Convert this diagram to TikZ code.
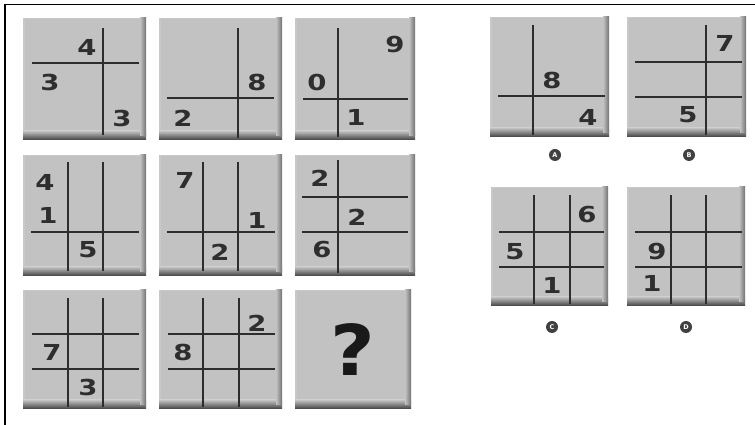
\documentclass[tikz,border=0pt]{standalone}
\usepackage{fontspec}
\newfontfamily\digfont{DejaVu Sans Bold}
\newfontfamily\qfont{DejaVu Sans Bold}
\newfontfamily\lblfont{DejaVu Sans Bold}
\definecolor{tilegray}{RGB}{194,194,194}
\definecolor{linegray}{RGB}{45,45,45}
\tikzset{
  gl/.style={draw=linegray,line width=1.4pt},
  digitmain/.style={text=black!82,font=\digfont\fontsize{22}{22}\selectfont,xscale=1.25,inner sep=0pt},
  lbl/.style={circle,fill=black!75,text=white,inner sep=0pt,minimum size=12pt,font=\lblfont\fontsize{6.5}{6.5}\selectfont},
  border/.style={line width=1.6pt,draw=black}
}
\newcommand\tilebg[2]{%
  \fill[tilegray!90!white] (0,0) rectangle (#1,-#2);
  \fill[tilegray] (1.5,-1.5) rectangle (#1,-#2);
  \shade[top color=tilegray,bottom color=black!75] (0,-#2+9) rectangle (#1,-#2);
  \shade[left color=tilegray,right color=black!55] (#1-6,0) rectangle (#1,-#2+4);
}
\newcommand\vln[3]{\draw[gl] (#1,-#2) -- (#1,-#3);}
\newcommand\hln[3]{\draw[gl] (#2,-#1) -- (#3,-#1);}
\newcommand\dg[3]{\node[digitmain] at (#1,-#2) {#3};}
\begin{document}
\begin{tikzpicture}[x=1pt,y=1pt]
\useasboundingbox (0,0) rectangle (755,425);
\fill[white] (0,0) rectangle (755,425);
\draw[border] (5,0) -- (5,420.5) -- (755,420.5);

% Tile 1
\begin{scope}[shift={(23,407)}]
  \tilebg{123}{122}
  \hln{45}{9}{116} \vln{80}{10}{117}
  \dg{64}{29}{4} \dg{27}{64}{3} \dg{99}{100}{3}
\end{scope}
% Tile 2
\begin{scope}[shift={(159,407)}]
  \tilebg{123}{122}
  \vln{79}{10}{120} \hln{80}{8}{115}
  \dg{98}{64}{8} \dg{24}{100}{2}
\end{scope}
% Tile 3
\begin{scope}[shift={(295,407)}]
  \tilebg{120}{122}
  \vln{43}{10}{119} \hln{81}{8}{113}
  \dg{100}{27}{9} \dg{22}{64}{0} \dg{61}{99}{1}
\end{scope}
% Tile 4
\begin{scope}[shift={(23,270)}]
  \tilebg{123}{121}
  \vln{45}{7}{116} \vln{80}{7}{116} \hln{77}{8}{116}
  \dg{22}{27}{4} \dg{25}{60}{1} \dg{65}{95}{5}
\end{scope}
% Tile 5
\begin{scope}[shift={(159,270)}]
  \tilebg{123}{121}
  \vln{44}{7}{116} \vln{79}{7}{116} \hln{77}{8}{116}
  \dg{26}{25}{7} \dg{98}{65}{1} \dg{61}{97}{2}
\end{scope}
% Tile 6
\begin{scope}[shift={(295,270)}]
  \tilebg{120}{121}
  \vln{43}{5}{118} \hln{42}{7}{113} \hln{77}{7}{113}
  \dg{25}{23}{2} \dg{62}{62}{2} \dg{27}{95}{6}
\end{scope}
% Tile 7
\begin{scope}[shift={(23,135)}]
  \tilebg{123}{119}
  \vln{45}{8}{117} \vln{80}{8}{117} \hln{44}{9}{116} \hln{79}{9}{116}
  \dg{29}{62}{7} \dg{65}{97}{3}
\end{scope}
% Tile 8
\begin{scope}[shift={(159,135)}]
  \tilebg{123}{119}
  \vln{44}{8}{117} \vln{80}{8}{117} \hln{44}{9}{116} \hln{79}{9}{116}
  \dg{98}{33}{2} \dg{24}{62}{8}
\end{scope}
% Tile 9
\begin{scope}[shift={(295,135)}]
  \tilebg{116}{119}
  \node[text=black!90,font=\qfont\fontsize{70}{70}\selectfont,xscale=1.1,inner sep=0pt] (q) at (58,-60) {?};
\end{scope}

% Answer A
\begin{scope}[shift={(490,408)}]
  \tilebg{119}{120}
  \vln{43}{8}{118} \hln{79}{8}{115}
  \dg{62}{63}{8} \dg{98}{100}{4}
\end{scope}
% Answer B
\begin{scope}[shift={(627,408)}]
  \tilebg{119}{120}
  \vln{79}{8}{118} \hln{45}{8}{115} \hln{80}{8}{115}
  \dg{98}{26}{7} \dg{61}{98}{5}
\end{scope}
% Answer C
\begin{scope}[shift={(491,238)}]
  \tilebg{117}{119}
  \vln{43}{8}{117} \vln{79}{8}{117} \hln{45}{8}{113} \hln{80}{8}{113}
  \dg{96}{28}{6} \dg{24}{65}{5} \dg{61}{98}{1}
\end{scope}
% Answer D
\begin{scope}[shift={(627,238)}]
  \tilebg{118}{119}
  \vln{44}{8}{117} \vln{79}{8}{117} \hln{45}{8}{115} \hln{80}{8}{115}
  \dg{30}{65}{9} \dg{25}{96}{1}
\end{scope}

\node[lbl] (la) at (555,270) {A};
\node[lbl] (lb) at (689,270) {B};
\node[lbl] (lc) at (552,98) {C};
\node[lbl] (ld) at (686,98) {D};
\end{tikzpicture}
\end{document}
